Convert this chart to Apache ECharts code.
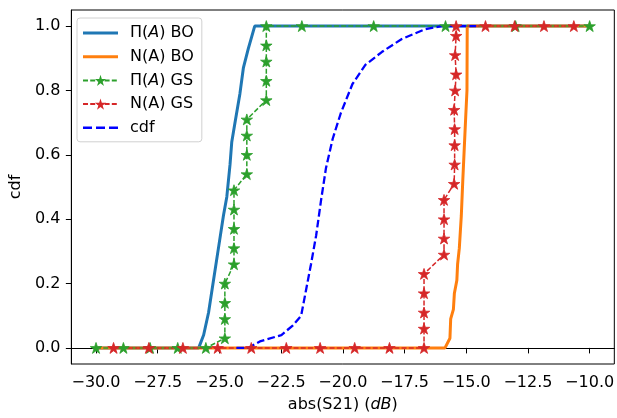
<!DOCTYPE html>
<html>
<head>
<meta charset="utf-8">
<script src="https://cdn.jsdelivr.net/npm/echarts@6/dist/echarts.min.js"></script>
<style>
  html, body { margin: 0; padding: 0; background: #fff; }
  #chart { width: 617px; height: 418px; }
</style>
</head>
<body>
<div id="chart"></div>
<script>
// values
const piBoX = [-30, -25.84, -25.64, -25.44, -25.24, -25.04, -24.84, -24.70, -24.57, -24.50, -24.37, -24.17, -24.03, -23.83, -23.57, -10];
const piBoY = [0, 0, 0.04, 0.11, 0.21, 0.31, 0.41, 0.47, 0.57, 0.64, 0.70, 0.79, 0.87, 0.93, 1.0, 1.0];

const nBoX = [-30, -15.86, -15.66, -15.63, -15.52, -15.48, -15.38, -15.35, -15.28, -15.2, -15.14, -15.08, -15.02, -14.97, -14.96, -10];
const nBoY = [0, 0, 0.03, 0.09, 0.12, 0.17, 0.21, 0.26, 0.31, 0.41, 0.52, 0.62, 0.72, 0.8, 1.0, 1.0];

const piGsX = [-30, -28.89, -27.81, -26.69, -25.55,
  -24.78, -24.78, -24.78, -24.78,
  -24.41, -24.41, -24.41, -24.41, -24.41,
  -23.89, -23.89, -23.89, -23.89,
  -23.1, -23.1, -23.1, -23.1, -23.1,
  -21.66, -18.75, -15.84, -13.0, -10.0];
const piGsY = [0, 0, 0, 0, 0,
  0.03, 0.09, 0.14, 0.2,
  0.26, 0.31, 0.37, 0.43, 0.49,
  0.54, 0.6, 0.66, 0.71,
  0.77, 0.83, 0.89, 0.94, 1.0,
  1, 1, 1, 1, 1];

const nGsX = [-29.29, -27.86, -26.48, -25.07, -23.71, -22.29, -20.92, -19.52, -18.11, -16.71,
  -16.71, -16.71, -16.71, -16.71,
  -15.9, -15.9, -15.9, -15.9,
  -15.49, -15.47, -15.47, -15.47, -15.49, -15.45, -15.41, -15.45, -15.41,
  -15.41, -14.22, -13.04, -11.85, -10.64];
const nGsY = [0, 0, 0, 0, 0, 0, 0, 0, 0, 0,
  0.06, 0.11, 0.17, 0.23,
  0.29, 0.34, 0.4, 0.46,
  0.51, 0.57, 0.63, 0.68, 0.74, 0.8, 0.85, 0.91, 0.97,
  1, 1, 1, 1, 1];

const cdfX = [-24.31, -23.83, -23.36, -22.49, -22.02, -21.69, -21.49, -21.29, -21.08, -20.88, -20.68, -20.41, -20.08, -19.61, -19.08, -18.41, -17.61, -16.67, -16.0, -14.6];
const cdfY = [0, 0, 0.02, 0.04, 0.07, 0.1, 0.18, 0.26, 0.35, 0.46, 0.56, 0.65, 0.73, 0.82, 0.88, 0.92, 0.96, 0.99, 1.0, 1.0];

const xTicks = [-30, -27.5, -25, -22.5, -20, -17.5, -15, -12.5, -10];
const yTicks = [0, 0.2, 0.4, 0.6, 0.8, 1.0];

const FONT = 'DejaVu Sans';
const FS = 16;
const STAR = 'path://M100 0L122.45 69.1L195.11 69.1L136.33 111.8L158.78 180.9L100 138.2L41.22 180.9L63.67 111.8L4.89 69.1L77.55 69.1Z';
// legend handles: plain line, and three dashes
const SOLID_ICON = 'path://M0 0H35V3H0Z';
const DASH_ICON = 'path://M0 0H9V2.4H0ZM13 0H22V2.4H13ZM26 0H35V2.4H26Z';

const zip = (xs, ys) => xs.map((x, i) => [x, ys[i]]);

const chart = echarts.init(document.getElementById('chart'), null, { renderer: 'canvas' });

const solid = (name, xs, ys, color) => ({
  name, type: 'line', data: zip(xs, ys), symbol: 'none',
  lineStyle: { color, width: 3 }, itemStyle: { color }
});

const starred = (name, xs, ys, color) => ({
  name, type: 'line', data: zip(xs, ys),
  symbol: STAR, symbolSize: 11.5, symbolKeepAspect: true, showAllSymbol: true,
  lineStyle: { color, width: 1.5, type: [5, 2.2] },
  itemStyle: { color, borderColor: color, borderWidth: 0.8 }
});

const italic = { fontSize: FS, fontStyle: 'italic', fontFamily: FONT, color: '#000' };

chart.setOption({
  animation: false,
  textStyle: { fontFamily: FONT },
  grid: { left: 68, right: 1, top: 10, bottom: 53, show: true, borderColor: '#000', borderWidth: 1 },
  legend: {
    orient: 'vertical', left: 77, top: 18,
    padding: [7, 8, 6, 5],
    backgroundColor: 'rgba(255,255,255,0.8)', borderColor: '#d0d0d0', borderWidth: 1, borderRadius: 3,
    itemWidth: 35, itemHeight: 14, itemGap: 7.7,
    itemStyle: { borderWidth: 0 },
    textStyle: { fontSize: FS, color: '#000', padding: [0, 0, 0, 7], rich: { i: italic } },
    formatter: name => name.startsWith('Π') ? name.replace('(A)', '({i|A})') : name,
    data: [
      { name: 'Π(A) BO', icon: SOLID_ICON },
      { name: 'N(A) BO', icon: SOLID_ICON },
      'Π(A) GS',
      'N(A) GS',
      { name: 'cdf', icon: DASH_ICON }
    ]
  },
  xAxis: {
    type: 'value', min: -31, max: -9,
    name: 'abs(S21) ({i|dB})', nameLocation: 'middle', nameGap: 33,
    nameTextStyle: { fontSize: FS, color: '#000', rich: { i: italic } },
    axisLine: { show: true, lineStyle: { color: '#000' } },
    axisTick: { show: true, length: 5.5, lineStyle: { color: '#000' }, customValues: xTicks },
    axisLabel: {
      fontSize: FS, color: '#000', margin: 11, customValues: xTicks,
      formatter: v => (v < 0 ? '\u2212' : '') + Math.abs(v).toFixed(1)
    },
    splitLine: { show: false }
  },
  yAxis: {
    type: 'value', min: -0.05, max: 1.05,
    name: 'cdf', nameLocation: 'middle', nameGap: 44,
    nameTextStyle: { fontSize: FS, color: '#000' },
    axisLine: { show: true, lineStyle: { color: '#000' } },
    axisTick: { show: true, length: 5.5, lineStyle: { color: '#000' }, customValues: yTicks },
    axisLabel: {
      fontSize: FS, color: '#000', margin: 11, customValues: yTicks,
      formatter: v => v.toFixed(1)
    },
    splitLine: { show: false }
  },
  series: [
    solid('Π(A) BO', piBoX, piBoY, '#1f77b4'),
    solid('N(A) BO', nBoX, nBoY, '#ff7f0e'),
    starred('Π(A) GS', piGsX, piGsY, '#2ca02c'),
    starred('N(A) GS', nGsX, nGsY, '#d62728'),
    {
      name: 'cdf', type: 'line', data: zip(cdfX, cdfY), symbol: 'none',
      lineStyle: { color: '#0000ff', width: 2.3, type: [7.7, 3.3] }, itemStyle: { color: '#0000ff' }
    }
  ]
});

window.addEventListener('resize', () => chart.resize());
</script>
</body>
</html>
